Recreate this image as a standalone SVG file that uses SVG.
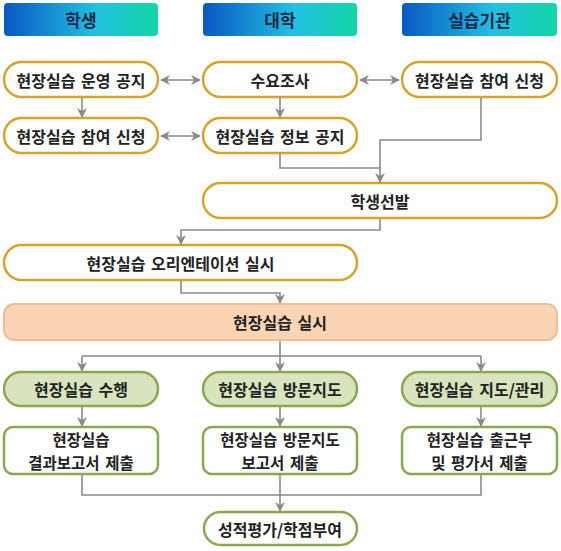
<svg xmlns="http://www.w3.org/2000/svg" width="561" height="551" viewBox="0 0 561 551">
<defs>
<linearGradient id="hg" x1="0" y1="0" x2="1" y2="0">
<stop offset="0" stop-color="#0a58c4"/>
<stop offset="0.6" stop-color="#22c2e2"/>
<stop offset="1" stop-color="#12d6a6"/>
</linearGradient>
<marker id="ah" viewBox="0 0 10 10" refX="9" refY="5" markerWidth="10" markerHeight="10" markerUnits="userSpaceOnUse" orient="auto-start-reverse">
<path d="M0,0 L10,5 L0,10 L3,5 z" fill="#8a8a8a"/>
</marker>
<style>
text{font-family:"Malgun Gothic","Noto Sans CJK KR",sans-serif;font-weight:bold;font-size:16px;word-spacing:2px;fill:#222;text-anchor:middle;dominant-baseline:central}
.hd rect{fill:url(#hg)}
.hd text{fill:#1b2747;font-size:17px}
.y rect{fill:#fff;stroke:#d3a52a;stroke-width:2.5}
.g rect{fill:#d7e4bd;stroke:#8aa84e;stroke-width:2.5}
.w rect{fill:#fff;stroke:#8aa84e;stroke-width:2.5}
.w2 text{font-size:15.5px}
.p rect{fill:#fbd4b4;stroke:#f7bd92;stroke-width:2}
.c path,.c line,.c polyline{fill:none;stroke:#8a8a8a;stroke-width:1.6}
</style>
</defs>

<g id="h1" class="hd"><rect x="4" y="3" width="154" height="33" rx="4"/><text x="81" y="19.5">학생</text></g>
<g id="h2" class="hd"><rect x="203" y="3" width="154" height="33" rx="4"/><text x="280" y="19.5">대학</text></g>
<g id="h3" class="hd"><rect x="402" y="3" width="155" height="33" rx="4"/><text x="479.5" y="19.5">실습기관</text></g>

<g id="n1" class="y"><rect x="4" y="62" width="154" height="35" rx="17.5"/><text x="81" y="79.5">현장실습 운영 공지</text></g>
<g id="n2" class="y"><rect x="203" y="62" width="154" height="35" rx="17.5"/><text x="280" y="79.5">수요조사</text></g>
<g id="n3" class="y"><rect x="402" y="62" width="155" height="35" rx="17.5"/><text x="479.5" y="79.5">현장실습 참여 신청</text></g>
<g id="n4" class="y"><rect x="4" y="118" width="154" height="35" rx="17.5"/><text x="81" y="135.5">현장실습 참여 신청</text></g>
<g id="n5" class="y"><rect x="203" y="118" width="154" height="35" rx="17.5"/><text x="280" y="135.5">현장실습 정보 공지</text></g>
<g id="n6" class="y"><rect x="203" y="183" width="354" height="35" rx="17.5"/><text x="380" y="200.5">학생선발</text></g>
<g id="n7" class="y"><rect x="4" y="245" width="353" height="35" rx="17.5"/><text x="180.5" y="262.5">현장실습 오리엔테이션 실시</text></g>
<g id="n8" class="p"><rect x="4" y="304" width="553" height="36" rx="10"/><text x="280" y="322">현장실습 실시</text></g>
<g id="n9" class="g"><rect x="4" y="372" width="154" height="34" rx="17"/><text x="81" y="389">현장실습 수행</text></g>
<g id="n10" class="g"><rect x="203" y="372" width="154" height="34" rx="17"/><text x="280" y="389">현장실습 방문지도</text></g>
<g id="n11" class="g"><rect x="402" y="372" width="155" height="34" rx="17"/><text x="479.5" y="389">현장실습 지도/관리</text></g>
<g id="n12" class="w w2"><rect x="4" y="427" width="154" height="47" rx="9"/><text x="81" y="439">현장실습</text><text x="81" y="462">결과보고서 제출</text></g>
<g id="n13" class="w w2"><rect x="203" y="427" width="154" height="47" rx="9"/><text x="280" y="439">현장실습 방문지도</text><text x="280" y="462">보고서 제출</text></g>
<g id="n14" class="w w2"><rect x="402" y="427" width="155" height="47" rx="9"/><text x="479.5" y="439">현장실습 출근부</text><text x="479.5" y="462">및 평가서 제출</text></g>
<g id="n15" class="w"><rect x="204" y="512" width="153" height="33" rx="16.5"/><text x="280" y="528.5">성적평가/학점부여</text></g>

<g id="connectors" class="c">
<line x1="161" y1="80" x2="200" y2="80" marker-start="url(#ah)" marker-end="url(#ah)"/>
<line x1="360" y1="80" x2="399" y2="80" marker-start="url(#ah)" marker-end="url(#ah)"/>
<line x1="161" y1="136" x2="200" y2="136" marker-start="url(#ah)" marker-end="url(#ah)"/>
<line x1="82" y1="98" x2="82" y2="117" marker-end="url(#ah)"/>
<line x1="280" y1="98" x2="280" y2="117" marker-end="url(#ah)"/>
<polyline points="481,98 481,140 380,140 380,182" marker-end="url(#ah)"/>
<polyline points="280,154 280,168 380,168"/>
<polyline points="380,219 380,230 181,230 181,244" marker-end="url(#ah)"/>
<polyline points="181,281 181,293 280,293 280,303" marker-end="url(#ah)"/>
<line x1="280" y1="341" x2="280" y2="356"/>
<line x1="82" y1="356" x2="481" y2="356"/>
<line x1="82" y1="356" x2="82" y2="371" marker-end="url(#ah)"/>
<line x1="280" y1="356" x2="280" y2="371" marker-end="url(#ah)"/>
<line x1="481" y1="356" x2="481" y2="371" marker-end="url(#ah)"/>
<line x1="82" y1="407" x2="82" y2="426" marker-end="url(#ah)"/>
<line x1="280" y1="407" x2="280" y2="426" marker-end="url(#ah)"/>
<line x1="481" y1="407" x2="481" y2="426" marker-end="url(#ah)"/>
<polyline points="82,475 82,495 481,495 481,475"/>
<line x1="280" y1="475" x2="280" y2="511" marker-end="url(#ah)"/>
</g>
</svg>
